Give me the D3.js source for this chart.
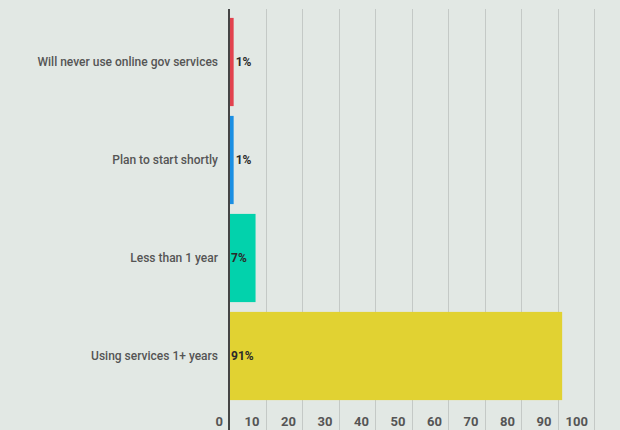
<!DOCTYPE html>
<html>
<head>
<meta charset="utf-8">
<script src="https://cdn.jsdelivr.net/npm/d3@7"></script>
<style>
  html, body { margin: 0; padding: 0; background: #e2e8e4; }
  svg { display: block; font-family: Roboto, "Noto Sans", sans-serif; }
</style>
</head>
<body>
<svg id="chart" width="620" height="430"></svg>
<script>
// Survey answers, top to bottom
const categories = [
  "Will never use online gov services",
  "Plan to start shortly",
  "Less than 1 year",
  "Using services 1+ years"
];
const values = [1, 1, 7, 91];
const barColors = ["#e2424e", "#1b8fe3", "#02d2ac", "#e1d232"];
const tickValues = [0, 10, 20, 30, 40, 50, 60, 70, 80, 90, 100];

(function () {
  const svg = d3.select("#chart");
  const H = 430;
  const plotLeft = 229, plotRight = 594, plotTop = 9;

  const x = d3.scaleLinear().domain([0, 100]).range([plotLeft, plotRight]);
  const y = d3.scaleBand().domain(categories).range([13, 405])
    .paddingInner(0.1).paddingOuter(0.05);

  // Vertical grid lines run the full height, through the tick labels
  svg.append("g")
    .selectAll("line")
    .data(tickValues.slice(1))
    .join("line")
    .attr("x1", d => Math.round(x(d)) + 0.5)
    .attr("x2", d => Math.round(x(d)) + 0.5)
    .attr("y1", plotTop)
    .attr("y2", H)
    .attr("stroke", "#c4c9c6")
    .attr("stroke-width", 1);

  // Bars
  svg.append("g")
    .selectAll("rect")
    .data(values)
    .join("rect")
    .attr("x", x(0) + 1)
    .attr("y", (d, i) => y(categories[i]))
    .attr("width", d => x(d) - x(0))
    .attr("height", y.bandwidth())
    .attr("fill", (d, i) => barColors[i]);

  // Zero axis line
  svg.append("line")
    .attr("x1", x(0)).attr("x2", x(0))
    .attr("y1", plotTop).attr("y2", H)
    .attr("stroke", "#454545")
    .attr("stroke-width", 2);

  // Category labels
  svg.append("g")
    .selectAll("text")
    .data(categories)
    .join("text")
    .attr("x", plotLeft - 11)
    .attr("y", d => y(d) + y.bandwidth() / 2)
    .attr("dy", "0.35em")
    .attr("text-anchor", "end")
    .attr("font-size", 12)
    .attr("font-weight", 500)
    .attr("fill", "#555")
    .text(d => d);

  // Value labels: outside narrow bars, inside wider ones
  svg.append("g")
    .selectAll("text")
    .data(values)
    .join("text")
    .attr("x", d => (x(d) - x(0) < 20) ? x(d) + 3 : x(0) + 2)
    .attr("y", (d, i) => y(categories[i]) + y.bandwidth() / 2)
    .attr("dy", "0.35em")
    .attr("font-size", 12)
    .attr("font-weight", 700)
    .attr("fill", "#2a2a2a")
    .text(d => d + "%");

  // Tick labels sit just left of each grid line
  svg.append("g")
    .selectAll("text")
    .data(tickValues)
    .join("text")
    .attr("x", d => x(d) - 6)
    .attr("y", 426)
    .attr("text-anchor", "end")
    .attr("font-size", 13)
    .attr("font-weight", 700)
    .attr("fill", "#555")
    .text(d => d);
})();
</script>
</body>
</html>
